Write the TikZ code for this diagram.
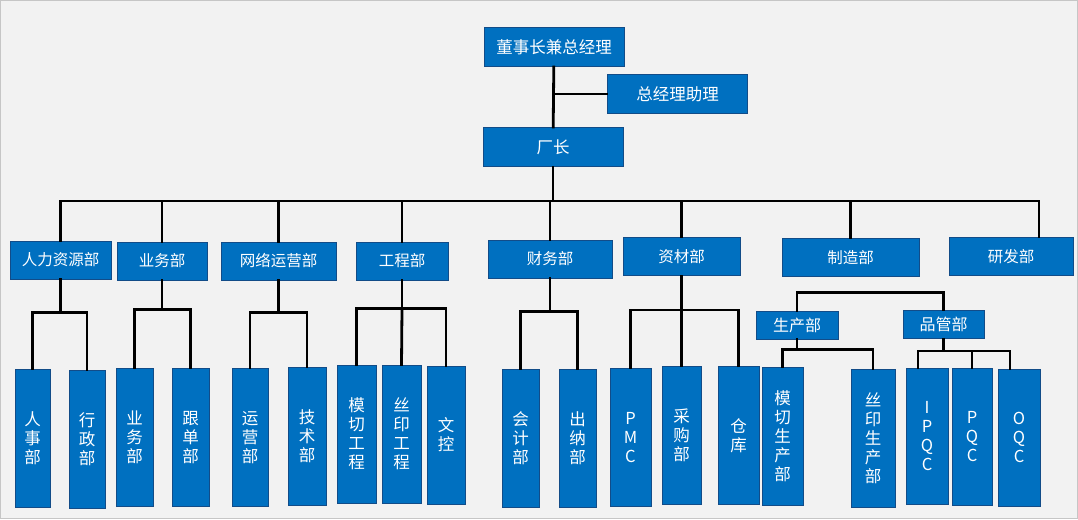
\documentclass[tikz,border=0pt]{standalone}
\usepackage{fontspec}
\usepackage{tikz}
\usetikzlibrary{positioning, calc}
\newfontfamily\cjk{Noto Sans CJK SC}
\definecolor{boxBlue}{RGB}{0, 112, 192}
\definecolor{boxEdge}{RGB}{18, 76, 136}
\definecolor{bgGray}{RGB}{242, 242, 242}

\begin{document}
\begin{tikzpicture}[x=1pt, y=-1pt,
    box/.style={fill=boxBlue, draw=boxEdge, line width=0.9pt, text=white, inner sep=0pt},
    topbox/.style={box, minimum width=140pt, minimum height=39pt, font=\cjk\fontsize{16.5}{18}\selectfont},
    deptbox/.style={box, minimum height=38pt, font=\cjk\fontsize{15.5}{18}\selectfont},
    subbox/.style={box, minimum height=28pt, font=\cjk\fontsize{16}{18}\selectfont},
    unitbox/.style={box, minimum width=38pt, minimum height=138pt, align=center, font=\cjk\fontsize{16.5}{19}\selectfont},
    wire/.style={line width=2.8pt, black, line cap=rect}]
      \useasboundingbox (0,0) rectangle (1078,519);
      \draw[fill=bgGray, draw=gray!45] (0.5,0.5) rectangle (1077.5,518.5);

      % Top level
      \node[topbox] (boss) at (554,47) {董事长兼总经理};
      \node[topbox] (assistant) at (677.5,94) {总经理助理};
      \node[topbox] (director) at (553,147) {厂长};

      % Departments
      \node[deptbox, minimum width=101pt] (hr) at (60.5,260) {人力资源部};
      \node[deptbox, minimum width=90pt] (sales) at (162,261) {业务部};
      \node[deptbox, minimum width=115pt] (netops) at (278.5,261) {网络运营部};
      \node[deptbox, minimum width=92pt] (eng) at (402,261) {工程部};
      \node[deptbox, minimum width=124pt] (finance) at (550,259) {财务部};
      \node[deptbox, minimum width=117pt] (material) at (681.5,256.5) {资材部};
      \node[deptbox, minimum width=137pt] (mfg) at (850.5,257.5) {制造部};
      \node[deptbox, minimum width=124pt] (rnd) at (1011,256.5) {研发部};

      % Under manufacturing
      \node[subbox, minimum width=82pt] (prod) at (797,325) {生产部};
      \node[subbox, minimum width=81pt] (qc) at (943.5,324.5) {品管部};

      % Units
      \node[unitbox, minimum width=35pt] (rs) at (32.5,438) {人\\事\\部};
      \node[unitbox, minimum width=36pt] (xz) at (87,439) {行\\政\\部};
      \node[unitbox, minimum width=37pt] (yw) at (134.5,437.5) {业\\务\\部};
      \node[unitbox, minimum width=37pt] (gd) at (190.5,437.5) {跟\\单\\部};
      \node[unitbox, minimum width=36pt] (yy) at (250,437.5) {运\\营\\部};
      \node[unitbox] (js) at (307,436.5) {技\\术\\部};
      \node[unitbox, minimum width=39pt] (mqgc) at (356.5,434) {模\\切\\工\\程};
      \node[unitbox, minimum width=39pt] (sygc) at (401.5,434) {丝\\印\\工\\程};
      \node[unitbox] (wk) at (446,435) {文\\控};
      \node[unitbox, minimum width=37pt] (kj) at (520.5,438) {会\\计\\部};
      \node[unitbox, minimum width=37pt] (cn) at (577.5,438) {出\\纳\\部};
      \node[unitbox, minimum width=41pt] (pmc) at (630.5,437.5) {P\\M\\C};
      \node[unitbox, minimum width=39pt] (cg) at (681.5,435.5) {采\\购\\部};
      \node[unitbox, minimum width=41pt] (ck) at (738.5,435.5) {仓\\库};
      \node[unitbox, minimum width=41pt] (mqsc) at (782.5,436) {模\\切\\生\\产\\部};
      \node[unitbox, minimum width=44pt] (sysc) at (873,438) {丝\\印\\生\\产\\部};
      \node[unitbox, minimum width=42pt, minimum height=136pt] (ipqc) at (927,436) {I\\P\\Q\\C};
      \node[unitbox, minimum width=40pt, minimum height=137pt] (pqc) at (972,436.5) {P\\Q\\C};
      \node[unitbox, minimum width=42pt, minimum height=137pt] (oqc) at (1019,437.5) {O\\Q\\C};

      % Top links
      \draw[wire] (boss) -- (director);
      \draw[wire] (assistant.west) -- (assistant.west -| boss.south);

      % Main bus
      \draw[wire] (director.south) -- ++(0,34) coordinate (bus);
      \coordinate (rndtop) at ([xshift=28pt]rnd.north);
      \draw[wire] (hr.north) -- (hr.north |- bus) -- (rndtop |- bus) -- (rndtop);
      \foreach \d in {sales, netops, eng, finance, material, mfg}
        \draw[wire] (\d.north) -- (\d.north |- bus);

      % Sub branches
      \draw[wire] (hr.south) -- ++(0,33) coordinate (hrbar);
      \draw[wire] (rs.north) |- (hrbar) -| (xz.north);
      \draw[wire] (sales.south) -- ++(0,29) coordinate (salesbar);
      \draw[wire] (yw.north) |- (salesbar) -| (gd.north);
      \draw[wire] (netops.south) -- ++(0,32) coordinate (netbar);
      \draw[wire] (yy.north) |- (netbar) -| (js.north);
      \draw[wire] (eng.south) -- ++(0,28) coordinate (engbar);
      \draw[wire] (mqgc.north) |- (engbar) -| (wk.north);
      \draw[wire] (engbar) -- (sygc.north);
      \draw[wire] (finance.south) -- ++(0,33) coordinate (finbar);
      \draw[wire] (kj.north) |- (finbar) -| (cn.north);
      \draw[wire] (material.south) -- ++(0,34) coordinate (matbar);
      \draw[wire] (pmc.north) |- (matbar) -| (ck.north);
      \draw[wire] (matbar) -- (cg.north);

      % Manufacturing
      \draw[wire] (prod.north) -- ++(0,-18) -| (qc.north);
      \draw[wire] (prod.south) -- ++(0,10) coordinate (prodbar);
      \draw[wire] (mqsc.north) |- (prodbar) -| (sysc.north);
      \draw[wire] (qc.south) -- ++(0,12) coordinate (qcbar);
      \coordinate (ipqctop) at ([xshift=-9pt]ipqc.north);
      \coordinate (oqctop) at ([xshift=-9pt]oqc.north);
      \draw[wire] (ipqctop) |- (qcbar) -| (oqctop);
      \draw[wire] (pqc.north) -- (pqc.north |- qcbar);
    \end{tikzpicture}
\end{document}
